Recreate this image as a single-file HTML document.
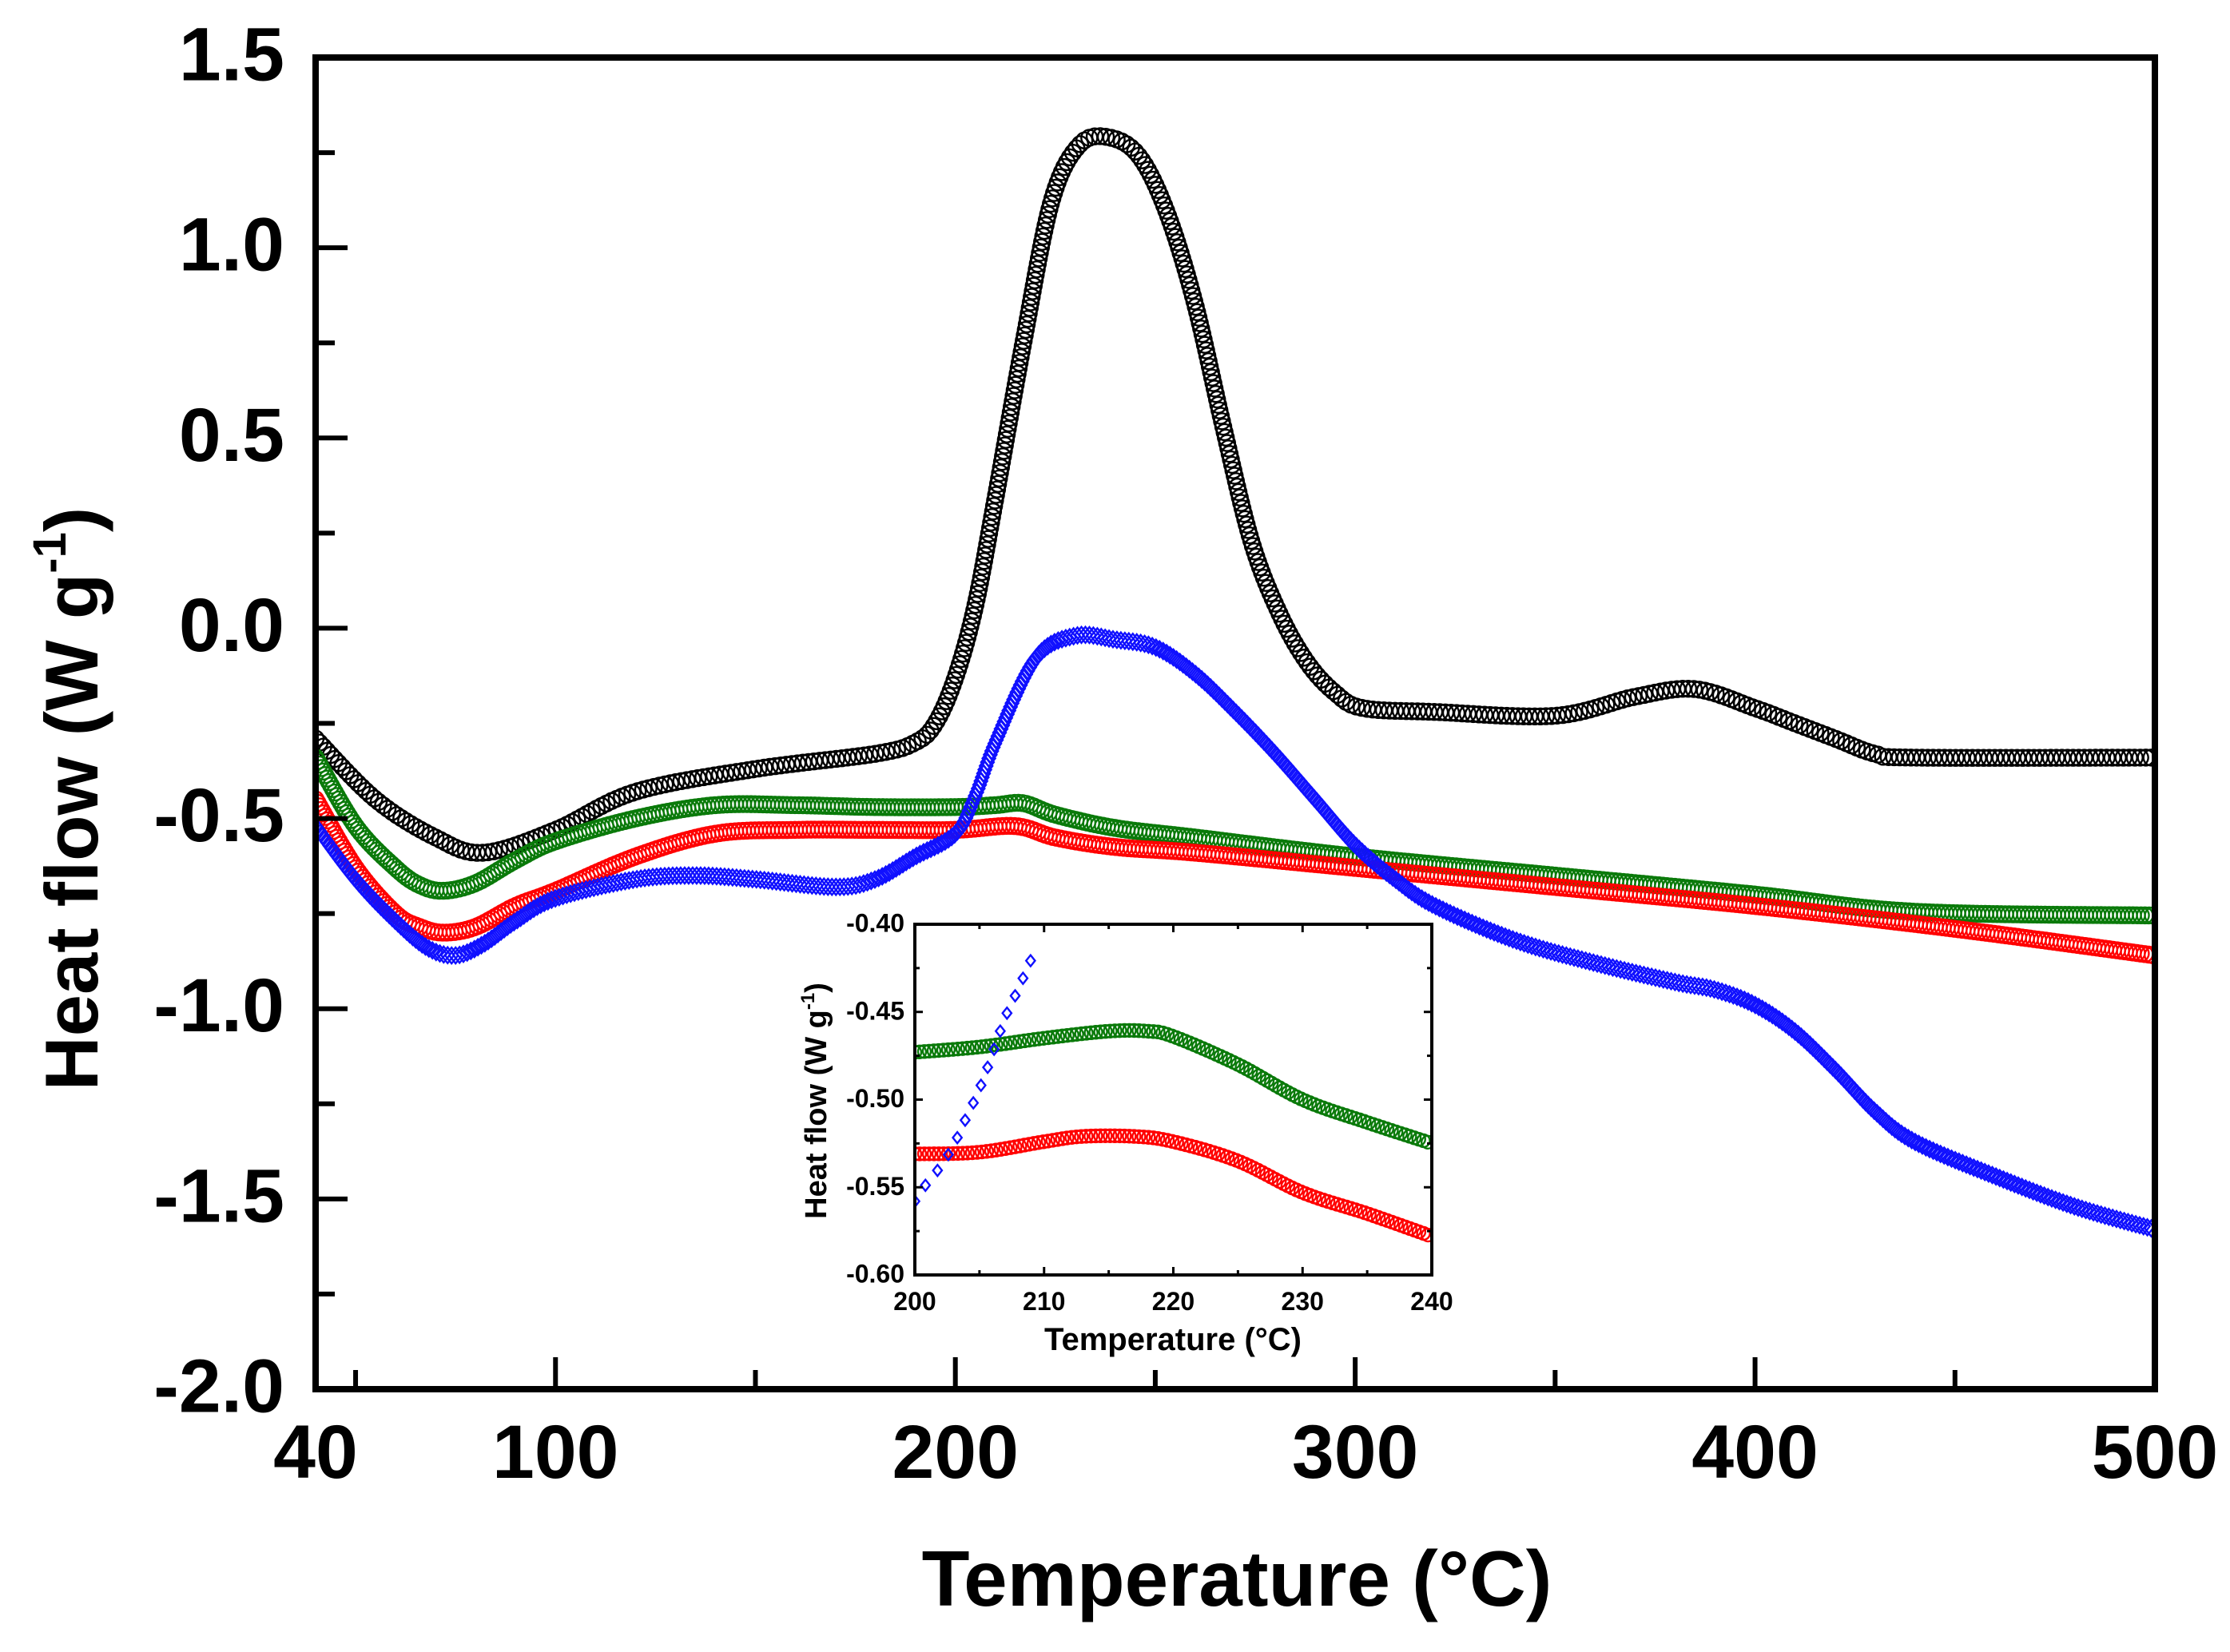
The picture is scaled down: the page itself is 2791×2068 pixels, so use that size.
<!DOCTYPE html>
<html><head><meta charset="utf-8"><style>
html,body{margin:0;padding:0;background:#fff}
svg{display:block}
text{font-family:"Liberation Sans",Arial,sans-serif;font-weight:bold}
</style></head><body>
<svg id="chart" width="2791" height="2068" viewBox="0 0 2791 2068" xmlns="http://www.w3.org/2000/svg">
<g id="main"></g>
<g id="inset"></g>
</svg>
<script>
// ---- main chart data ----
const blackT = [40,55,70,82,100,120,150,180,190,195,200,205,210,217,224,231,238.5,246,253,260,267,274,281,288,295,302,320,350,370,385,400,410,420,430,440,500];
const blackV = [-0.29,-0.45,-0.55,-0.59,-0.53,-0.43,-0.37,-0.33,-0.3,-0.25,-0.13,0.06,0.34,0.75,1.12,1.27,1.29,1.24,1.09,0.85,0.53,0.23,0.04,-0.09,-0.17,-0.21,-0.22,-0.23,-0.18,-0.16,-0.21,-0.25,-0.29,-0.33,-0.34,-0.34];
const blueT = [40,50,60,68,75,82,90,100,120,135,150,170,180,190,200,205,210,220,230,240,250,260,270,280,290,300,310,320,340,360,380,390,400,410,420,430,440,460,480,500];
const blueV = [-0.52,-0.66,-0.77,-0.84,-0.86,-0.83,-0.77,-0.71,-0.66,-0.65,-0.66,-0.68,-0.66,-0.6,-0.54,-0.44,-0.3,-0.08,-0.02,-0.03,-0.05,-0.12,-0.22,-0.33,-0.45,-0.57,-0.66,-0.73,-0.82,-0.88,-0.93,-0.95,-0.99,-1.06,-1.16,-1.27,-1.35,-1.44,-1.52,-1.58];
const greenT = [40,50,60,66,72,80,90,100,120,140,160,180,200,210,217,225,240,260,300,350,400,440,500];
const greenV = [-0.34,-0.52,-0.63,-0.675,-0.69,-0.67,-0.61,-0.56,-0.5,-0.465,-0.465,-0.47,-0.47,-0.465,-0.46,-0.49,-0.525,-0.55,-0.6,-0.65,-0.7,-0.745,-0.755];
const redT = [40,50,60,66,72,80,90,100,120,140,160,180,200,215,225,240,260,300,350,400,450,500];
const redV = [-0.45,-0.63,-0.75,-0.785,-0.8,-0.785,-0.73,-0.69,-0.6,-0.54,-0.53,-0.53,-0.53,-0.52,-0.55,-0.575,-0.59,-0.63,-0.68,-0.73,-0.79,-0.86];
const xTicks = [40,100,200,300,400,500];
const xMinor = [50,150,250,350,450];
const yTicks = [1.5,1.0,0.5,0.0,-0.5,-1.0,-1.5,-2.0];
const yTickLabels = ["1.5","1.0","0.5","0.0","-0.5","-1.0","-1.5","-2.0"];
const yMinor = [1.25,0.75,0.25,-0.25,-0.75,-1.25,-1.75];
// ---- inset data ----
const inGreenT = [200,205,210,215,218,220,225,230,235,240];
const inGreenV = [-0.473,-0.47,-0.465,-0.461,-0.461,-0.464,-0.48,-0.5,-0.513,-0.525];
const inRedT = [200,205,210,213,217,220,225,230,235,240];
const inRedV = [-0.531,-0.53,-0.524,-0.521,-0.521,-0.524,-0.535,-0.553,-0.565,-0.578];
const inBlueT = [200,201,202,203,204,205,206,207,208,209];
const inBlueV = [-0.558,-0.547,-0.538,-0.526,-0.51,-0.494,-0.474,-0.453,-0.437,-0.42];
const inXTicks = [200,210,220,230,240];
const inXMinor = [205,215,225,235];
const inYTicks = [-0.40,-0.45,-0.50,-0.55,-0.60];
const inYTickLabels = ["-0.40","-0.45","-0.50","-0.55","-0.60"];
const inYMinor = [-0.425,-0.475,-0.525,-0.575];

const NS="http://www.w3.org/2000/svg";
function mk(tag,attrs,parent){const e=document.createElementNS(NS,tag);for(const k in attrs)e.setAttribute(k,attrs[k]);parent.appendChild(e);return e;}

const M={x0:395,x1:2697,y0:72,y1:1739,tmin:40,tmax:500,vmin:-2.0,vmax:1.5};
const I={x0:1145,x1:1792,y0:1157,y1:1596,tmin:200,tmax:240,vmin:-0.60,vmax:-0.40};
function sx(P,t){return P.x0+(t-P.tmin)/(P.tmax-P.tmin)*(P.x1-P.x0);}
function sy(P,v){return P.y1-(v-P.vmin)/(P.vmax-P.vmin)*(P.y1-P.y0);}

function smoothPath(P,T,V){
  const pts=T.map((t,i)=>[sx(P,t),sy(P,V[i])]);
  let d="M"+pts[0][0]+","+pts[0][1];
  for(let i=0;i<pts.length-1;i++){
    const p0=pts[Math.max(0,i-1)],p1=pts[i],p2=pts[i+1],p3=pts[Math.min(pts.length-1,i+2)];
    const c1=[p1[0]+(p2[0]-p0[0])/6,p1[1]+(p2[1]-p0[1])/6];
    const c2=[p2[0]-(p3[0]-p1[0])/6,p2[1]-(p3[1]-p1[1])/6];
    d+=" C"+c1[0]+","+c1[1]+" "+c2[0]+","+c2[1]+" "+p2[0]+","+p2[1];
  }
  return d;
}

function series(P,g,T,V,color,name,shape,r,step,clip){
  const sg=mk('g',{},g);
  
  
  if(clip) sg.setAttribute('clip-path',clip);
  const p=mk('path',{d:smoothPath(P,T,V),fill:'none',stroke:'none'},sg);
  const L=p.getTotalLength();
  for(let s=0;s<=L;s+=step){
    const q=p.getPointAtLength(s);
    if(shape==='circle'){mk('circle',{cx:q.x,cy:q.y,r:r,fill:'none',stroke:color,'stroke-width':2.4},sg);}
    else{mk('path',{d:`M${q.x},${q.y-r} L${q.x+r*0.8},${q.y} L${q.x},${q.y+r} L${q.x-r*0.8},${q.y} Z`,fill:'none',stroke:color,'stroke-width':2.4},sg);}
  }
}

function axes(P,g,opt){
  const xt=opt.xt,xm=opt.xm,yt=opt.yt,yl=opt.yl,ym=opt.ym;
  xt.forEach(t=>{
    const x=sx(P,t);
    if(t!==P.tmin&&t!==P.tmax){const tk=mk('line',{x1:x,x2:x,y1:P.y1,y2:P.y1-opt.maj,stroke:'#000','stroke-width':opt.tw},g);
      if(opt.box){mk('line',{x1:x,x2:x,y1:P.y0,y2:P.y0+opt.maj,stroke:'#000','stroke-width':opt.tw},g);}}
    const lb=mk('text',{x:x,y:opt.xly,'font-size':opt.fs,'text-anchor':'middle'},g);lb.textContent=String(t);
    
  });
  xm.forEach(t=>{const x=sx(P,t);mk('line',{x1:x,x2:x,y1:P.y1,y2:P.y1-opt.min,stroke:'#000','stroke-width':opt.tw},g);
    if(opt.box)mk('line',{x1:x,x2:x,y1:P.y0,y2:P.y0+opt.min,stroke:'#000','stroke-width':opt.tw},g);});
  yt.forEach((v,i)=>{
    const y=sy(P,v);
    if(v!==P.vmin&&v!==P.vmax){const tk=mk('line',{x1:P.x0,x2:P.x0+opt.maj,y1:y,y2:y,stroke:'#000','stroke-width':opt.tw},g);
      if(opt.box)mk('line',{x1:P.x1,x2:P.x1-opt.maj,y1:y,y2:y,stroke:'#000','stroke-width':opt.tw},g);}
    const lb=mk('text',{x:opt.ylx,y:y+opt.fs*0.3,'font-size':opt.fs,'text-anchor':'end'},g);lb.textContent=yl[i];
    
  });
  ym.forEach(v=>{const y=sy(P,v);mk('line',{x1:P.x0,x2:P.x0+opt.min,y1:y,y2:y,stroke:'#000','stroke-width':opt.tw},g);
    if(opt.box)mk('line',{x1:P.x1,x2:P.x1-opt.min,y1:y,y2:y,stroke:'#000','stroke-width':opt.tw},g);});
  const fr=mk('rect',{x:P.x0,y:P.y0,width:P.x1-P.x0,height:P.y1-P.y0,fill:'none',stroke:'#000','stroke-width':opt.aw},g);
  
}

const gm=document.getElementById('main');
mk('defs',{},document.getElementById('chart')).innerHTML='<clipPath id="mclip"><rect x="395" y="72" width="2302" height="1667"/></clipPath><clipPath id="iclip"><rect x="1145" y="1157" width="647" height="439"/></clipPath>';
series(M,gm,blackT,blackV,'#000','series-black','circle',10,7,'url(#mclip)');
series(M,gm,greenT,greenV,'#0a7a0a','series-green','circle',10,5,'url(#mclip)');
series(M,gm,redT,redV,'#ff0000','series-red','circle',10,5,'url(#mclip)');
series(M,gm,blueT,blueV,'#1010ff','series-blue','diamond',10,5,'url(#mclip)');
axes(M,gm,{xt:xTicks,xm:xMinor,yt:yTicks,yl:yTickLabels,ym:yMinor,maj:40,min:24,tw:6,aw:8,fs:95,xly:1850,ylx:356,box:false});
let t=mk('text',{x:1548,y:2010,'font-size':98,'text-anchor':'middle'},gm);t.textContent='Temperature (°C)';

t=mk('text',{x:0,y:0,'font-size':94,'text-anchor':'middle',transform:'translate(122,1000) rotate(-90)'},gm);
t.innerHTML='Heat flow (W g<tspan dy="-40" font-size="58">-1</tspan><tspan dy="40">)</tspan>';


const gi=document.getElementById('inset');
mk('rect',{x:I.x0,y:I.y0,width:I.x1-I.x0,height:I.y1-I.y0,fill:'#fff'},gi);
series(I,gi,inGreenT,inGreenV,'#0a7a0a','inset-series-green','circle',8,6,'url(#iclip)');
series(I,gi,inRedT,inRedV,'#ff0000','inset-series-red','circle',8,6,'url(#iclip)');
series(I,gi,inBlueT,inBlueV,'#1010ff','inset-series-blue','diamond',7,24,'url(#iclip)');
axes(I,gi,{xt:inXTicks,xm:inXMinor,yt:inYTicks,yl:inYTickLabels,ym:inYMinor,maj:10,min:6,tw:3,aw:4,fs:32,xly:1640,ylx:1132,box:true});
t=mk('text',{x:1468,y:1690,'font-size':40,'text-anchor':'middle'},gi);t.textContent='Temperature (°C)';

t=mk('text',{x:0,y:0,'font-size':38,'text-anchor':'middle',transform:'translate(1034,1378) rotate(-90)'},gi);
t.innerHTML='Heat flow (W g<tspan dy="-15" font-size="24">-1</tspan><tspan dy="15">)</tspan>';

</script>
</body></html>
